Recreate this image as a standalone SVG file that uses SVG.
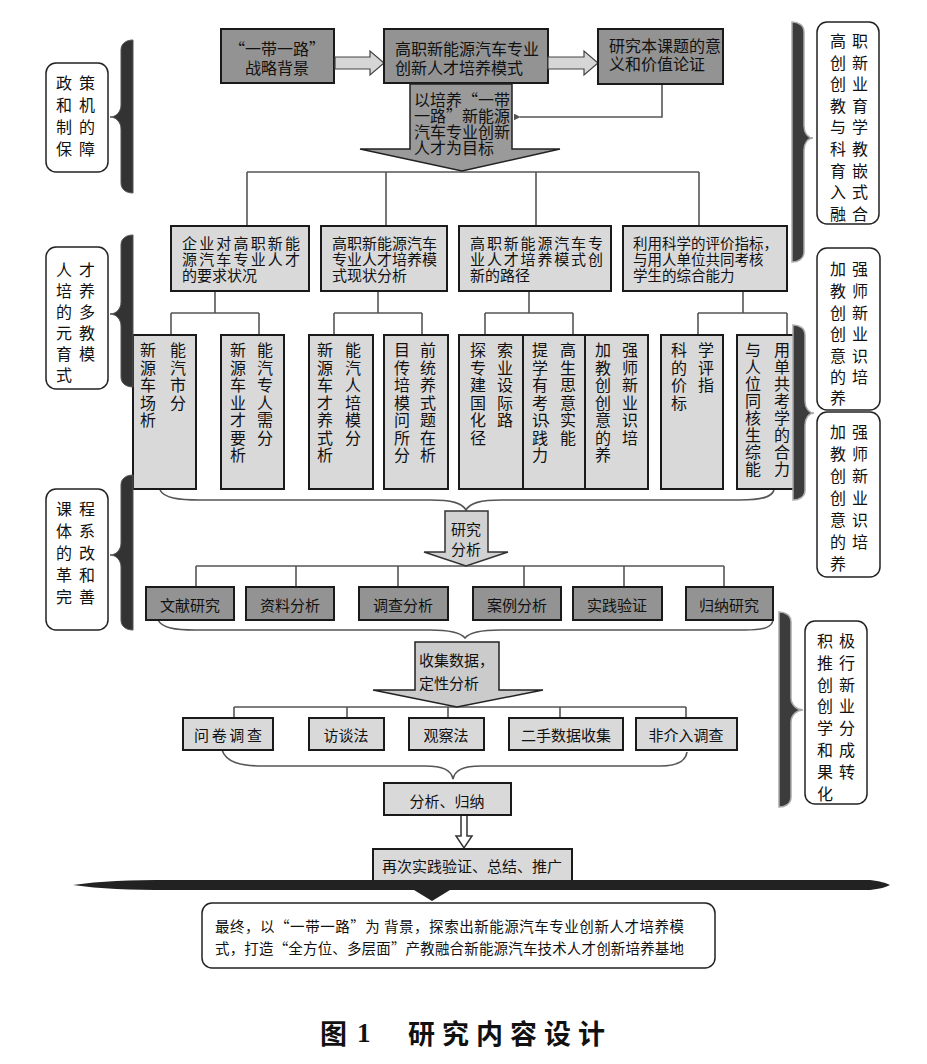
<svg xmlns="http://www.w3.org/2000/svg" width="927" height="1064" viewBox="0 0 927 1064">
<style>
text{font-family:"Noto Sans CJK SC","Noto Sans CJK JP",sans-serif;fill:#111;dominant-baseline:central}
.t16{font-size:16px}
.t15{font-size:15px}
.t14{font-size:14.5px}
.dk{fill:#939393;stroke:#1a1a1a;stroke-width:2}
.lt{fill:#d9d9d9;stroke:#1a1a1a;stroke-width:2}
.side{fill:#fff;stroke:#222;stroke-width:1.5}
.br{fill:#333;stroke:#555;stroke-width:1}
.brr{fill:#3c3c3c;stroke:#aaa;stroke-width:1.5}
.ln{fill:none;stroke:#555;stroke-width:1.6}
.mid{text-anchor:middle}
</style>
<defs>
<marker id="ah" viewBox="0 0 10 10" refX="1" refY="5" markerWidth="7" markerHeight="7" orient="auto-start-reverse" markerUnits="userSpaceOnUse">
<path d="M0,5 L10,0 L10,10 Z" fill="#555"/>
</marker>
</defs>
<rect width="927" height="1064" fill="#fff"/>

<!-- connectors -->
<g id="connectors">
<path class="ln" d="M662,84 V117 H520" marker-end="url(#ah)"/>
<path class="ln" d="M247,172 H699 M247,172 V226 M386,172 V226 M536,172 V226 M699,172 V226"/>
<path class="ln" d="M215,291 V313 M171,313 H259 M171,313 V335 M259,313 V335"/>
<path class="ln" d="M378,291 V313 M334,313 H422 M334,313 V335 M422,313 V335"/>
<path class="ln" d="M529,291 V313 M485,313 H573 M485,313 V335 M573,313 V335"/>
<path class="ln" d="M743,291 V313 M698,313 H787 M698,313 V335 M787,313 V335"/>
<path class="ln" d="M160,490 C164,498 178,500 200,500 L430,500 C452,500 462,503 466,510 C470,503 480,500 502,500 L740,500 C762,500 772,497 774,490"/>
<path class="ln" d="M196,566 H724 M196,566 V587 M296,566 V587 M398,566 V587 M524,566 V587 M624,566 V587 M724,566 V587"/>
<path class="ln" d="M158,620 C162,628 175,630 195,630 L430,630 C450,630 461,633 465,638 C469,633 480,630 500,630 L745,630 C765,630 772,627 773,620"/>
<path class="ln" d="M234,707 H686 M234,707 V718 M347,707 V718 M448,707 V718 M560,707 V718 M686,707 V718"/>
<path class="ln" d="M222,750 C226,762 240,766 262,766 L425,766 C443,766 451,770 453,779 C455,770 463,766 481,766 L660,766 C678,766 686,760 687,752"/>
<path d="M461,815 V836 H456 L464,848 L472,836 H467 V815" fill="#fff" stroke="#333" stroke-width="1.5"/>
</g>

<!-- top row -->
<g id="n-bg">
<rect class="dk" x="221" y="29" width="113" height="54"/>
<text class="t16" x="229 245 261 277 293 309 245 261 277 293" y="48 48 48 48 48 48 67 67 67 67">“一带一路”战略背景</text>
</g>
<g id="a1">
<path d="M335,57 H370 V51 L384,63 L370,75 V69 H335 Z" fill="#d6d6d6" stroke="#444" stroke-width="1.2"/>
</g>
<g id="n-mode">
<rect class="dk" x="384" y="29" width="164" height="54"/>
<text class="t16" x="395 411 427 443 459 475 491 507 523 395 411 427 443 459 475 491 507" y="48 48 48 48 48 48 48 48 48 67 67 67 67 67 67 67 67">高职新能源汽车专业创新人才培养模式</text>
</g>
<g id="a2">
<path d="M548,57 H584 V51 L598,63 L584,75 V69 H548 Z" fill="#d6d6d6" stroke="#444" stroke-width="1.2"/>
</g>
<g id="n-sig">
<rect class="dk" x="598" y="29" width="125" height="55"/>
<text class="t16" x="609 625 641 657 673 689 705 609 625 641 657 673 689" y="45 45 45 45 45 45 45 63 63 63 63 63 63">研究本课题的意义和价值论证</text>
</g>
<g id="n-goal">
<path d="M410,84 H512 V149 H560 L462,171 L360,149 H410 Z" fill="#9a9a9a" stroke="#222" stroke-width="1.5"/>
<text class="t16" x="414 430 446 462 478 494 414 430 446 462 478 494 414 430 446 462 478 494 414 430 446 462 478" y="99 99 99 99 99 99 115 115 115 115 115 115 131 131 131 131 131 131 147 147 147 147 147">以培养“一带一路”新能源汽车专业创新人才为目标</text>
</g>

<!-- level 2 -->
<g id="n-l2a">
<rect class="lt" x="171" y="226" width="138" height="65"/>
<text class="t15" x="182 199.2 216.3 233.5 250.7 267.8 285 182 199.2 216.3 233.5 250.7 267.8 285 182 197 212 227 242" y="242 242 242 242 242 242 242 258 258 258 258 258 258 258 274 274 274 274 274">企业对高职新能源汽车专业人才的要求状况</text>
</g>
<g id="n-l2b">
<rect class="lt" x="321" y="226" width="126" height="65"/>
<text class="t15" x="332 347 362 377 392 407 422 332 347 362 377 392 407 422 332 347 362 377 392" y="242 242 242 242 242 242 242 258 258 258 258 258 258 258 274 274 274 274 274">高职新能源汽车专业人才培养模式现状分析</text>
</g>
<g id="n-l2c">
<rect class="lt" x="459" y="226" width="152" height="65"/>
<text class="t15" x="470 486.9 503.7 520.6 537.4 554.3 571.1 588 470 486.9 503.7 520.6 537.4 554.3 571.1 588 470 485 500 515" y="242 242 242 242 242 242 242 242 258 258 258 258 258 258 258 258 274 274 274 274">高职新能源汽车专业人才培养模式创新的路径</text>
</g>
<g id="n-l2d">
<rect class="lt" x="623" y="226" width="164" height="65"/>
<text class="t14" x="633 647.5 662 676.5 691 705.5 720 734.5 749 763.5 633 647.5 662 676.5 691 705.5 720 734.5 749 633 647.5 662 676.5 691 705.5 720" y="242 242 242 242 242 242 242 242 242 242 258 258 258 258 258 258 258 258 258 274 274 274 274 274 274 274">利用科学的评价指标，与用人单位共同考核学生的综合能力</text>
</g>

<!-- level 3 -->
<g id="n-l3-1">
<rect class="lt" x="133" y="335" width="63" height="154"/>
<text class="t16 mid" x="148 148 148 148 148" y="349 366.5 384 401.5 419">新源车场析</text>
<text class="t16 mid" x="178 178 178 178" y="349 366.5 384 401.5">能汽市分</text>
</g>
<g id="n-l3-2">
<rect class="lt" x="221" y="335" width="63" height="154"/>
<text class="t16 mid" x="238 238 238 238 238 238 238" y="349 366.5 384 401.5 419 436.5 454">新源车业才要析</text>
<text class="t16 mid" x="265 265 265 265 265 265" y="349 366.5 384 401.5 419 436.5">能汽专人需分</text>
</g>
<g id="n-l3-3">
<rect class="lt" x="309" y="335" width="64" height="154"/>
<text class="t16 mid" x="325 325 325 325 325 325 325" y="349 366.5 384 401.5 419 436.5 454">新源车才养式析</text>
<text class="t16 mid" x="353 353 353 353 353 353" y="349 366.5 384 401.5 419 436.5">能汽人培模分</text>
</g>
<g id="n-l3-4">
<rect class="lt" x="384" y="335" width="64" height="154"/>
<text class="t16 mid" x="402 402 402 402 402 402 402" y="349 366.5 384 401.5 419 436.5 454">目传培模问所分</text>
<text class="t16 mid" x="428 428 428 428 428 428 428" y="349 366.5 384 401.5 419 436.5 454">前统养式题在析</text>
</g>
<g id="n-l3-5">
<rect class="lt" x="459" y="335" width="64" height="154"/>
<text class="t16 mid" x="478 478 478 478 478 478" y="349 366.5 384 401.5 419 436.5">探专建国化径</text>
<text class="t16 mid" x="505 505 505 505 505" y="349 366.5 384 401.5 419">索业设际路</text>
</g>
<g id="n-l3-6">
<rect class="lt" x="523" y="335" width="62" height="154"/>
<text class="t16 mid" x="540 540 540 540 540 552 540 540" y="349 366.5 384 401.5 419 416 436.5 454">提学有考识、践力</text>
<text class="t16 mid" x="568 568 568 568 568 568" y="349 366.5 384 401.5 419 436.5">高生思意实能</text>
</g>
<g id="n-l3-7">
<rect class="lt" x="585" y="335" width="63" height="154"/>
<text class="t16 mid" x="603 603 603 603 603 603 603" y="349 366.5 384 401.5 419 436.5 454">加教创创意的养</text>
<text class="t16 mid" x="630 630 630 630 630 630" y="349 366.5 384 401.5 419 436.5">强师新业识培</text>
</g>
<g id="n-l3-8">
<rect class="lt" x="661" y="335" width="62" height="154"/>
<text class="t16 mid" x="679 679 679 679" y="349 366.5 384 401.5">科的价标</text>
<text class="t16 mid" x="706 706 706" y="349 366.5 384">学评指</text>
</g>
<g id="n-l3-9">
<rect class="lt" x="737" y="335" width="62" height="154"/>
<text class="t16 mid" x="753 753 753 753 753 753 753 753" y="349 366 383 400 417 434 451 468">与人位同核生综能</text>
<text class="t16 mid" x="782 782 782 782 782 782 782 782" y="349 366 383 400 417 434 451 468">用单共考学的合力</text>
</g>

<!-- research arrow -->
<g id="n-research">
<path d="M445,511 H488 V552 H508 L466,566 L424,552 H445 Z" fill="#d2d2d2" stroke="#333" stroke-width="1.5"/>
<text class="t15 mid"><tspan x="466" y="528">研究</tspan><tspan x="466" y="548">分析</tspan></text>
</g>

<!-- level 4 -->
<g id="n-l4-1"><rect class="dk" x="146" y="587" width="88" height="33"/><text class="t15 mid" x="190" y="604">文献研究</text></g>
<g id="n-l4-2"><rect class="dk" x="246" y="587" width="88" height="33"/><text class="t15 mid" x="290" y="604">资料分析</text></g>
<g id="n-l4-3"><rect class="dk" x="359" y="587" width="89" height="33"/><text class="t15 mid" x="403" y="604">调查分析</text></g>
<g id="n-l4-4"><rect class="dk" x="473" y="587" width="88" height="33"/><text class="t15 mid" x="517" y="604">案例分析</text></g>
<g id="n-l4-5"><rect class="dk" x="573" y="587" width="89" height="33"/><text class="t15 mid" x="617" y="604">实践验证</text></g>
<g id="n-l4-6"><rect class="dk" x="686" y="587" width="87" height="33"/><text class="t15 mid" x="729" y="604">归纳研究</text></g>

<!-- collect arrow -->
<g id="n-collect">
<path d="M415,642 H499 V690 H543 L457,707 L373,690 H415 Z" fill="#cbcbcb" stroke="#222" stroke-width="1.5"/>
<text class="t15"><tspan x="419" y="659">收集数据，</tspan><tspan x="419" y="682">定性分析</tspan></text>
</g>

<!-- level 5 -->
<g id="n-l5-1"><rect class="lt" x="183" y="718" width="90" height="32"/><text class="t15 mid" x="228" y="734" textLength="68" lengthAdjust="spacing">问卷调查</text></g>
<g id="n-l5-2"><rect class="lt" x="309" y="718" width="75" height="32"/><text class="t15 mid" x="346" y="734">访谈法</text></g>
<g id="n-l5-3"><rect class="lt" x="409" y="718" width="75" height="32"/><text class="t15 mid" x="446" y="734">观察法</text></g>
<g id="n-l5-4"><rect class="lt" x="509" y="718" width="114" height="32"/><text class="t15 mid" x="566" y="734">二手数据收集</text></g>
<g id="n-l5-5"><rect class="lt" x="636" y="718" width="101" height="32"/><text class="t15 mid" x="686" y="734">非介入调查</text></g>

<g id="n-sum">
<rect class="lt" x="384" y="783" width="127" height="32"/>
<text class="t15 mid" x="447" y="800">分析、归纳</text>
</g>
<g id="n-again">
<rect class="lt" x="373" y="849" width="199" height="32"/>
<text class="t15 mid" x="472" y="865">再次实践验证、总结、推广</text>
</g>

<g id="bar">
<path d="M73,885 C100,881 130,880 170,880 L870,880 C880,881 886,883 890,885 C886,887 880,889 870,890 L450,890 L432,901 L414,890 L170,890 C130,890 100,889 73,885 Z" fill="#222"/>
</g>
<g id="n-final">
<rect x="202" y="903" width="513" height="65" rx="10" fill="#fff" stroke="#222" stroke-width="1.5"/>
<text class="t14"><tspan x="215" y="925" textLength="469" lengthAdjust="spacing">最终，以“一带一路”为 背景，探索出新能源汽车专业创新人才培养模</tspan><tspan x="215" y="947" textLength="469" lengthAdjust="spacing">式，打造“全方位、多层面”产教融合新能源汽车技术人才创新培养基地</tspan></text>
</g>

<!-- left side labels -->
<g id="s-policy">
<path class="br" d="M133,40 L133,193 C127,193 121,190 121,183 L121,129 C121,122 116,117 110,117 C116,117 121,112 121,105 L121,50 C121,43 127,40 133,40 Z"/>
<rect class="side" x="46" y="63" width="62" height="109" rx="10"/>
<text class="t16 mid" x="64 64 64 64" y="82 104 126 148">政和制保</text>
<text class="t16 mid" x="87 87 87 87" y="82 104 126 148">策机的障</text>
</g>
<g id="s-talent">
<path class="br" d="M133,235 L133,387 C127,387 121,384 121,377 L121,326 C121,319 116,314 110,314 C116,314 121,309 121,302 L121,245 C121,238 127,235 133,235 Z"/>
<rect class="side" x="46" y="247" width="62" height="142" rx="10"/>
<text class="t16 mid" x="64 64 64 64 64 64" y="269 290 311 332 353 374">人培的元育式</text>
<text class="t16 mid" x="87 87 87 87 87" y="269 290 311 332 353">才养多教模</text>
</g>
<g id="s-course">
<path class="br" d="M133,475 L133,630 C127,630 121,627 121,620 L121,567 C121,560 116,555 110,555 C116,555 121,550 121,543 L121,485 C121,478 127,475 133,475 Z"/>
<rect class="side" x="46" y="489" width="62" height="141" rx="10"/>
<text class="t16 mid" x="64 64 64 64 64" y="508 530 552 574 596">课体的革完</text>
<text class="t16 mid" x="87 87 87 87 87" y="508 530 552 574 596">程系改和善</text>
</g>

<!-- right side labels -->
<g id="s-integ">
<path class="brr" d="M792,22 L792,262 C798,262 804,259 804,252 L804,150 C804,143 808,138 813,138 C808,138 804,133 804,126 L804,32 C804,25 798,22 792,22 Z"/>
<rect class="side" x="817" y="22" width="62" height="202" rx="10"/>
<text class="t16 mid" x="838 838 838 838 838 838 838 838 838" y="40 61.6 83.2 104.8 126.4 148 169.6 191.2 212.8">高创创教与科育入融</text>
<text class="t16 mid" x="860 860 860 860 860 860 860 860 860" y="40 61.6 83.2 104.8 126.4 148 169.6 191.2 212.8">职新业育学教嵌式合</text>
</g>
<g id="s-teach1">
<rect class="side" x="817" y="248" width="63" height="162" rx="10"/>
<text class="t16 mid" x="838 838 838 838 838 838 838" y="268 290 312 333 355 376 397">加教创创意的养</text>
<text class="t16 mid" x="860 860 860 860 860 860" y="268 290 312 333 355 376">强师新业识培</text>
</g>
<g id="s-teach-brace">
<path class="brr" d="M793,325 L793,500 C799,500 805,497 805,490 L805,425 C805,418 809,413 814,413 C809,413 805,408 805,401 L805,335 C805,328 799,325 793,325 Z"/>
</g>
<g id="s-teach2">
<rect class="side" x="817" y="412" width="63" height="165" rx="10"/>
<text class="t16 mid" x="838 838 838 838 838 838 838" y="431 453 475 497 519 541 563">加教创创意的养</text>
<text class="t16 mid" x="860 860 860 860 860 860" y="431 453 475 497 519 541">强师新业识培</text>
</g>
<g id="s-credit">
<path class="brr" d="M779,612 L779,807 C785,807 791,804 791,797 L791,722 C791,715 797,710 803,710 C797,710 791,705 791,698 L791,622 C791,615 785,612 779,612 Z"/>
<rect class="side" x="805" y="621" width="62" height="183" rx="10"/>
<text class="t16 mid" x="825 825 825 825 825 825 825 825" y="640 661.8 683.6 705.4 727.2 749 770.8 792.6">积推创创学和果化</text>
<text class="t16 mid" x="847 847 847 847 847 847 847" y="640 661.8 683.6 705.4 727.2 749 770.8">极行新业分成转</text>
</g>

<g id="caption">
<text x="320" y="1032" style="font-size:27px;font-weight:bold;font-family:'Noto Sans CJK SC',sans-serif">图</text>
<text x="357" y="1033" style="font-size:27px;font-weight:bold;font-family:'Liberation Serif',serif">1</text>
<text x="408" y="1032" textLength="197" lengthAdjust="spacing" style="font-size:27px;font-weight:bold;font-family:'Noto Sans CJK SC',sans-serif">研究内容设计</text>
</g>
</svg>
